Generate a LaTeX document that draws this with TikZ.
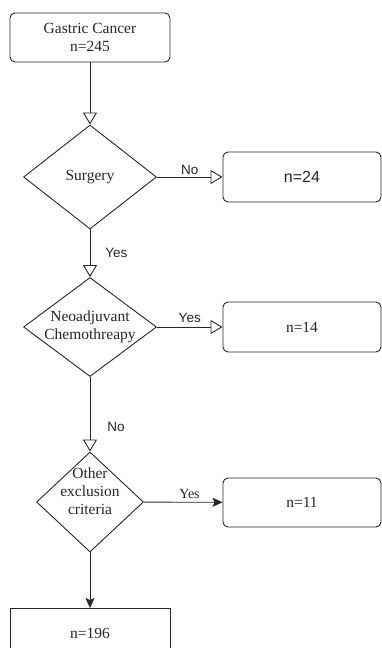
\documentclass[tikz,border=0pt]{standalone}
\usepackage{fontspec}
\setmainfont{Liberation Serif}
\setsansfont{Liberation Sans}
\usetikzlibrary{
    arrows.meta,
    shapes,
    positioning
}
\tikzset{%
    % arrow tips of the chart
    opentip/.style = {-{Triangle[open,width=14pt,length=12pt]}},
    filltip/.style = {-{Stealth[width=9pt,length=10pt,inset=2pt]}},
    % Specifications for style of nodes:
    base/.style = {
        rectangle, rounded corners=5pt, draw=black!85, line width=0.9pt,
        text=black!85, minimum width=160pt, minimum height=49pt,
        align=center, font=\fontsize{15.5}{17.5}\selectfont
    },
    result/.style = {base, minimum width=158pt, minimum height=50pt},
    decision/.style = {base, diamond, rounded corners=0pt,
        inner xsep=-8pt, inner ysep=-4pt},
    edgelabel/.style = {font=\sffamily\fontsize{13.5}{15}\selectfont,
        text=black!85, inner sep=1pt}
}
\begin{document}
\begin{tikzpicture}[x=1pt, y=-1pt, line width=0.9pt, draw=black!85]
    \useasboundingbox (0,0) rectangle (382,648);
    \node[base] (gastric) at (90,37.5) {Gastric Cancer\\n=245};
    \node[decision, minimum width=133pt, minimum height=104pt] (surgery) at (90,177) {Surgery};
    \node[decision, minimum width=133pt, minimum height=99pt] (neo) at (90,327) {Neoadjuvant\\Chemothreapy};
    \node[decision, minimum width=107pt, minimum height=100pt] (other) at (90,502) {};
    \node[align=center, text=black!85, font=\fontsize{15.5}{18}\selectfont] (othertext) at (90,491) {Other\\exclusion\\criteria};
    \node[result, font=\sffamily\fontsize{16}{18}\selectfont] (n24) at (302,177) {n=24};
    \node[result] (n14) at (302,327) {n=14};
    \node[result, minimum height=49pt] (n11) at (302,502.5) {n=11};
    \node[base, rounded corners=0pt] (n196) at (90,633) {n=196};

    \draw[opentip] (gastric) -- (surgery);
    \draw[opentip] (surgery) -- node[edgelabel, above=1pt] {No} (n24);
    \draw[opentip] (surgery) -- node[edgelabel, right=14pt] {Yes} (neo);
    \draw[opentip] (neo) -- node[edgelabel, above=3pt] {Yes} (n14);
    \draw[opentip] (neo) -- node[edgelabel, right=16pt, pos=0.67] {No} (other);
    \draw[filltip] (other) -- node[above=2pt, pos=0.58, text=black!85, font=\fontsize{14}{16}\selectfont, inner sep=1pt] {Yes} (n11);
    \draw[filltip] (other) -- (n196);
\end{tikzpicture}
\end{document}
